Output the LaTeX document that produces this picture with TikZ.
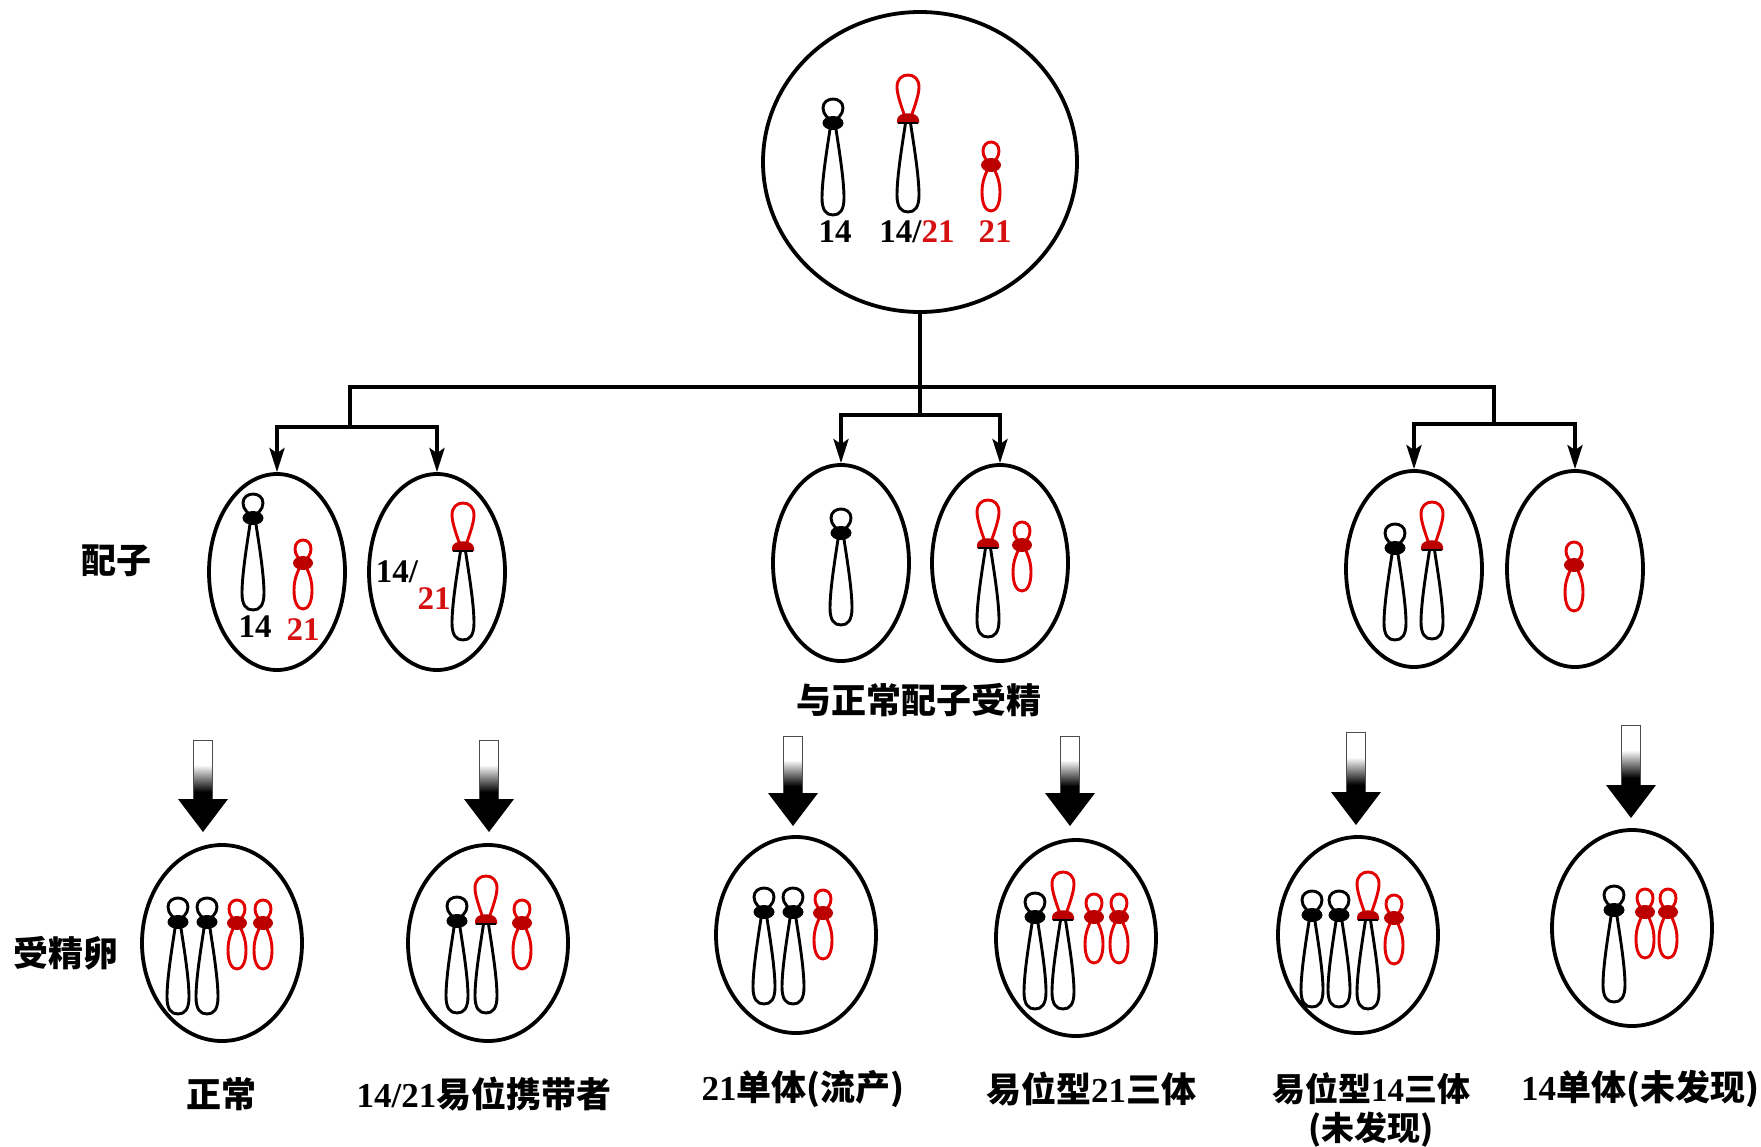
\documentclass[tikz,border=0pt]{standalone}
\usepackage{fontspec}
\setmainfont{Liberation Serif}
\newfontfamily\cjk{Noto Sans CJK SC}
\usetikzlibrary{arrows.meta,shapes.geometric}

\definecolor{chrred}{RGB}{226,0,0}
\definecolor{cenred}{RGB}{188,0,0}
\definecolor{txtred}{RGB}{214,16,16}

\newcommand\hanzi[1]{{\cjk #1}}

% shading for the shaft of the thick flow arrows: black at the bottom, white at the top
\pgfdeclareverticalshading{shaftshade}{100bp}{color(0bp)=(black); color(31bp)=(black); color(54bp)=(white); color(100bp)=(white)}

% thick flow arrow: x, top of shaft, tip
\newcommand\flowarrow[3]{%
  \shade[shading=shaftshade, draw=gray!60!black, line width=1pt]
    (#1-9.5,#2) rectangle (#1+9.5,#3-33);
  \fill (#1-25,#3-33) -- (#1+25,#3-33) -- (#1,#3) -- cycle;
}

\tikzset{
  chr/.style={line width=2.9pt, line join=round, line cap=round},
  cell/.style={draw, line width=3.8pt, ellipse, inner sep=0pt},
  gam/.style={cell, minimum width=136pt, minimum height=196pt},
  zyg/.style={cell, minimum width=160pt, minimum height=196pt},
  conn/.style={line width=3.8pt},
  tip/.style={-{Stealth[length=24pt, width=15pt, inset=5pt]}},
  num/.style={font=\fontsize{33}{40}\selectfont\bfseries, inner sep=0pt},
  lab/.style={font=\fontsize{35}{42}\selectfont\bfseries, inner sep=0pt, align=center},
  % chromosome 14: satellite, centromere, long arm
  c14/.pic={
    \draw[chr] (-2.5,-2) .. controls (-4,-5) and (-10,-8) .. (-10,-15)
      .. controls (-10,-21) and (-5,-24) .. (0,-24)
      .. controls (5,-24) and (10,-21) .. (10,-15)
      .. controls (10,-8) and (4,-5) .. (2.5,-2);
    \draw[chr] (-2.5,3) .. controls (-5,20) and (-11,55) .. (-11,75)
      .. controls (-11,87) and (-7,92) .. (0,92)
      .. controls (7,92) and (11,87) .. (11,75)
      .. controls (11,55) and (5,20) .. (2.5,3);
    \fill (0,0) ellipse [x radius=10.5pt, y radius=7pt];
  },
  % chromosome 21: two small red loops
  c21/.pic={
    \draw[chr, chrred] (-2.5,-2) .. controls (-4,-5) and (-8,-8) .. (-8,-14)
      .. controls (-8,-20) and (-4,-23) .. (0,-23)
      .. controls (4,-23) and (8,-20) .. (8,-14)
      .. controls (8,-8) and (4,-5) .. (2.5,-2);
    \draw[chr, chrred] (-2.5,2) .. controls (-4,7) and (-9,14) .. (-9,27)
      .. controls (-9,40) and (-5,46) .. (0,46)
      .. controls (5,46) and (9,40) .. (9,27)
      .. controls (9,14) and (4,7) .. (2.5,2);
    \fill[cenred] (0,0) ellipse [x radius=10pt, y radius=7pt];
  },
  % translocation chromosome 14/21: red long arm of 21 on top, arm of 14 below
  c1421/.pic={
    \draw[chr, chrred] (-3,-3) .. controls (-6,-12) and (-11,-25) .. (-11,-33)
      .. controls (-11,-41) and (-6,-45) .. (0,-45)
      .. controls (6,-45) and (11,-41) .. (11,-33)
      .. controls (11,-25) and (6,-12) .. (3,-3);
    \draw[chr] (-2.5,3) .. controls (-5,20) and (-11,55) .. (-11,75)
      .. controls (-11,87) and (-7,92) .. (0,92)
      .. controls (7,92) and (11,87) .. (11,75)
      .. controls (11,55) and (5,20) .. (2.5,3);
    \fill[cenred] (-11,3) -- (-11,0) .. controls (-11,-9) and (11,-9) .. (11,0) -- (11,3) -- cycle;
    \draw[line width=1.8pt] (-10,3) -- (10,3);
  },
}

\begin{document}
\begin{tikzpicture}[x=1pt, y=-1pt]
\fill[white] (0,0) rectangle (1761,1146);
\useasboundingbox (0,0) rectangle (1761,1146);

% ---- parent cell ----
\node[cell, minimum width=314pt, minimum height=300pt] (P) at (920,162) {};
\pic at (833,123) {c14};
\pic at (908,120) {c1421};
\pic at (991,165) {c21};
\node[num] (p14) at (835,232) {14};
\node[num] (p1421) at (917,232) {14/\textcolor{txtred}{21}};
\node[num, txtred] (p21) at (995,232) {21};

% ---- gametes ----
\node[gam] (g1) at (277,572) {};
\node[gam] (g2) at (437,572) {};
\node[gam] (g3) at (841,563) {};
\node[gam] (g4) at (1000,563) {};
\node[gam] (g5) at (1414,569) {};
\node[gam] (g6) at (1575,569) {};

\pic at (253,518) {c14};
\pic at (303,563) {c21};
\node[num] (g1a) at (255,627) {14};
\node[num, txtred] (g1b) at (303,630) {21};

\pic at (463,548) {c1421};
\node[num] (g2a) at (397,572) {14/};
\node[num, txtred] (g2b) at (434,599) {21};

\pic at (841,533) {c14};

\pic at (988,545) {c1421};
\pic at (1022,545) {c21};

\pic at (1395,548) {c14};
\pic at (1432,547) {c1421};

\pic at (1574,565) {c21};

% ---- segregation tree ----
\coordinate (hL) at (350,387);
\coordinate (hR) at (1494,387);
\coordinate (kL) at (350,427);
\coordinate (kM) at (920,415);
\coordinate (kR) at (1494,424);
\draw[conn, line cap=rect] (hL) -- (hR);
\draw[conn, line cap=rect] (hL) -- (kL);
\draw[conn, line cap=rect] (hR) -- (kR);
\draw[conn] (P.south) -- (kM);
\draw[conn, tip] (kL) -| (g1.north);
\draw[conn, tip] (kL) -| (g2.north);
\draw[conn, tip] (kM) -| (g3.north);
\draw[conn, tip] (kM) -| (g4.north);
\draw[conn, tip] (kR) -| (g5.north);
\draw[conn, tip] (kR) -| (g6.north);

% ---- row labels ----
\node[lab] (lgam) at (116,561) {\hanzi{配子}};
\node[lab] (lzyg) at (66,953) {\hanzi{受精卵}};
\node[lab] (lfert) at (919,700) {\hanzi{与正常配子受精}};

% ---- flow arrows ----
\flowarrow{203}{740}{832}
\flowarrow{489}{740}{832}
\flowarrow{793}{736}{826}
\flowarrow{1070}{736}{826}
\flowarrow{1356}{732}{825}
\flowarrow{1631}{725}{818}

% ---- zygotes ----
\node[zyg] (z1) at (222,943) {};
\node[zyg] (z2) at (488,943) {};
\node[zyg] (z3) at (796,935) {};
\node[zyg] (z4) at (1076,938) {};
\node[zyg] (z5) at (1358,935) {};
\node[zyg] (z6) at (1632,928) {};

\pic at (178,922) {c14};
\pic at (207,922) {c14};
\pic at (237,923) {c21};
\pic at (263,923) {c21};

\pic at (457,921) {c14};
\pic at (486,921) {c1421};
\pic at (522,923) {c21};

\pic at (764,912) {c14};
\pic at (793,912) {c14};
\pic at (823,913) {c21};

\pic at (1035,917) {c14};
\pic at (1063,917) {c1421};
\pic at (1094,917) {c21};
\pic at (1119,917) {c21};

\pic at (1312,915) {c14};
\pic at (1339,915) {c14};
\pic at (1368,917) {c1421};
\pic at (1394,918) {c21};

\pic at (1614,910) {c14};
\pic at (1645,912) {c21};
\pic at (1668,912) {c21};

% ---- outcome labels ----
\node[lab] (o1) at (221,1094) {\hanzi{正常}};
\node[lab] (o2) at (484,1094) {14/21\hanzi{易位携带者}};
\node[lab] (o3) at (803,1089) {21\hanzi{单体(流产)}};
\node[lab] (o4) at (1091,1089) {\hanzi{易位型}21\hanzi{三体}};
\node[lab, font=\fontsize{33}{39}\selectfont\bfseries] (o5) at (1371,1110)
  {\hanzi{易位型}14\hanzi{三体}\\\hanzi{(未发现)}};
\node[lab] (o6) at (1640,1089) {14\hanzi{单体(未发现)}};
\end{tikzpicture}
\end{document}
